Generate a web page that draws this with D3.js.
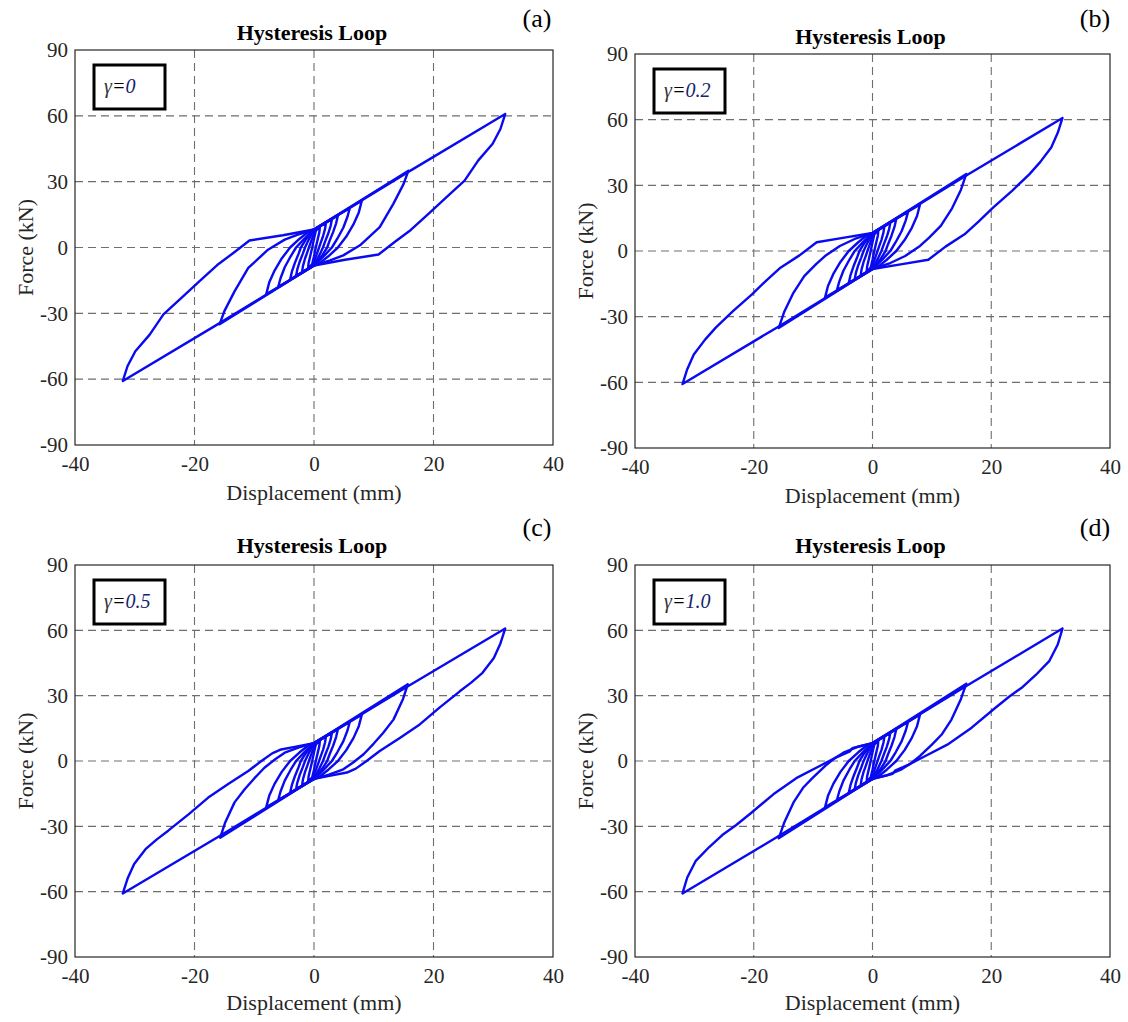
<!DOCTYPE html>
<html>
<head>
<meta charset="utf-8">
<script src="https://cdn.jsdelivr.net/npm/d3@7"></script>
<style>
  body { margin: 0; background: #fff; }
  svg { display: block; font-family: "Liberation Serif", "Times New Roman", serif; }
</style>
</head>
<body>
<div id="chart"></div>
<script>
// axis ticks
var xTicks = [-40, -20, 0, 20, 40]
var yTicks = [-90, -60, -30, 0, 30, 60, 90]
var xGrid = [-20, 0, 20]
var yGrid = [-60, -30, 0, 30, 60]

var panelTags = ["(a)", "(b)", "(c)", "(d)"]
var gammaValues = ["0", "0.2", "0.5", "1.0"]

// small cycles, nearly identical in all four panels (displacement mm, force kN)
var loop1 = [[1,9.7],[0.9,7],[0.6,3.5],[0.3,0],[0,-4],[-0.3,-7.5],[-1,-9.7],[-0.9,-7],[-0.6,-3.5],[-0.3,0],[0,4],[0.3,7.5],[1,9.7]]
var loop2 = [[2,11.3],[1.85,8.5],[1.5,5],[1.1,2],[0.85,0],[0.4,-3.5],[0,-6.5],[-0.5,-8.8],[-2,-11.3],[-1.85,-8.5],[-1.5,-5],[-1.1,-2],[-0.85,0],[-0.4,3.5],[0,6.5],[0.5,8.8],[2,11.3]]
var loop3 = [[3,13],[2.8,10],[2.4,6.5],[1.9,3],[1.5,0],[0.9,-3.5],[0.3,-6.5],[-0.3,-8.5],[-3,-13],[-2.8,-10],[-2.4,-6.5],[-1.9,-3],[-1.5,0],[-0.9,3.5],[-0.3,6.5],[0.3,8.5],[3,13]]
var loop4 = [[4,14.6],[3.7,11],[3.2,7],[2.6,3],[2.2,0],[1.4,-3.5],[0.5,-6.5],[0,-8],[-4,-14.6],[-3.7,-11],[-3.2,-7],[-2.6,-3],[-2.2,0],[-1.4,3.5],[-0.5,6.5],[0,8],[4,14.6]]
var loop6 = [[6,18],[5.6,14],[4.9,9],[3.9,4],[3,0],[1.8,-3.5],[0.7,-6.5],[0,-8.2],[-6,-18],[-5.6,-14],[-4.9,-9],[-3.9,-4],[-3,0],[-1.8,3.5],[-0.7,6.5],[0,8.2],[6,18]]
var loop8 = [[8,21.3],[7.5,16],[6.6,10.5],[5.4,5],[4,0],[2.4,-4],[1,-7],[0,-8.3],[-8,-21.3],[-7.5,-16],[-6.6,-10.5],[-5.4,-5],[-4,0],[-2.4,4],[-1,7],[0,8.3],[8,21.3]]

// 16 mm cycle, per panel
var mid_a = [[15.8,35],[15,29],[13.3,20],[11,9.3],[7.7,1],[4.9,-3.6],[2.7,-5.9],[0,-8.2],[-15.8,-35],[-15,-29],[-13.3,-20],[-11,-9.3],[-7.7,-1],[-4.9,3.6],[-2.7,5.9],[0,8.2],[15.8,35]]
var mid_b = [[15.8,35.2],[14.9,28],[13.4,19.5],[11.5,11.5],[9.5,6],[8,2.3],[5.5,-2.3],[3,-5.5],[0,-8.2],[-15.8,-35.2],[-14.9,-28],[-13.4,-19.5],[-11.5,-11.5],[-9.5,-6],[-8,-2.3],[-5.5,2.3],[-3,5.5],[0,8.2],[15.8,35.2]]
var mid_c = [[15.7,35.2],[14.9,28.5],[13.3,19],[11.6,13],[10,8],[8.3,3.1],[6.5,-0.8],[4.9,-3.8],[2.5,-6.3],[0,-8.2],[-15.7,-35.2],[-14.9,-28.5],[-13.3,-19],[-11.6,-13],[-10,-8],[-8.3,-3.1],[-6.5,0.8],[-4.9,3.8],[-2.5,6.3],[0,8.2],[15.7,35.2]]
var mid_d = [[15.8,35.5],[14.9,28.5],[13.3,19],[11.7,12.3],[10,7.5],[8,2.3],[6.5,-1],[4.9,-3.8],[2.5,-6.5],[0,-8.2],[-15.8,-35.5],[-14.9,-28.5],[-13.3,-19],[-11.7,-12.3],[-10,-7.5],[-8,-2.3],[-6.5,1],[-4.9,3.8],[-2.5,6.5],[0,8.2],[15.8,35.5]]

// 32 mm cycle, per panel
var outer_a = [[32,60.8],[31.2,54],[29.9,47.3],[27.5,39.7],[25.2,30.5],[22,22.5],[19.2,15.4],[16.2,8],[13.5,2.5],[10.8,-3.2],[5.2,-5.6],[0,-8.2],[-16,-34.8],[-32,-60.8],
  [-31.2,-54],[-29.9,-47.3],[-27.5,-39.7],[-25.2,-30.5],[-22,-22.5],[-19.2,-15.4],[-16.2,-8],[-13.5,-2.5],[-10.8,3.2],[-5.2,5.6],[0,8.2],[16,34.8],[32,60.8]]
var outer_b = [[32,60.8],[31.2,54],[30.1,47.3],[28.2,40.5],[26.4,35],[23.5,27.5],[20.3,19.8],[17.9,13.5],[15.5,7.6],[12.3,2],[9.4,-4],[5,-6],[0,-8.2],[-16,-34.8],[-32,-60.8],
  [-31.2,-54],[-30.1,-47.3],[-28.2,-40.5],[-26.4,-35],[-23.5,-27.5],[-20.3,-19.8],[-17.9,-13.5],[-15.5,-7.6],[-12.3,-2],[-9.4,4],[-5,6],[0,8.2],[16,34.8],[32,60.8]]
var outer_c = [[32,60.8],[31.2,54],[30.1,47.3],[28.2,40.5],[26.3,36],[24.4,32],[21,24.5],[17.7,16.8],[14.3,10.5],[11,4.6],[8.8,0],[7,-3.5],[5.5,-5.3],[3,-6.6],[0,-8.2],[-16,-34.8],[-32,-60.8],
  [-31.2,-54],[-30.1,-47.3],[-28.2,-40.5],[-26.3,-36],[-24.4,-32],[-21,-24.5],[-17.7,-16.8],[-14.3,-10.5],[-11,-4.6],[-8.8,0],[-7,3.5],[-5.5,5.3],[-3,6.6],[0,8.2],[16,34.8],[32,60.8]]
var outer_d = [[32,60.8],[31.2,53.5],[29.8,46],[27.5,39.5],[25.3,34],[23,29.5],[20.5,24],[16.7,15.3],[12.6,7.5],[8.9,2.3],[6,-1.8],[3.8,-4.4],[3.4,-5.9],[1.8,-7],[0,-8.2],[-16,-34.8],[-32,-60.8],
  [-31.2,-53.5],[-29.8,-46],[-27.5,-39.5],[-25.3,-34],[-23,-29.5],[-20.5,-24],[-16.7,-15.3],[-12.6,-7.5],[-8.9,-2.3],[-6,1.8],[-3.8,4.4],[-3.4,5.9],[-1.8,7],[0,8.2],[16,34.8],[32,60.8]]

var smallLoops = [loop1, loop2, loop3, loop4, loop6, loop8]
var midLoops = [mid_a, mid_b, mid_c, mid_d]
var outerLoops = [outer_a, outer_b, outer_c, outer_d]

var width = 1128, height = 1022
var svg = d3.select("#chart").append("svg")
    .attr("width", width)
    .attr("height", height)

// plot frames in page pixels
var frames = [
    {x0: 75, x1: 553, y0: 50, y1: 445, titleY: 40, tagX: 537, tagY: 27, xlabY: 500},
    {x0: 635, x1: 1110, y0: 54, y1: 448, titleY: 44, tagX: 1095, tagY: 27, xlabY: 503},
    {x0: 75, x1: 553, y0: 565, y1: 957, titleY: 553, tagX: 537, tagY: 536, xlabY: 1010},
    {x0: 635, x1: 1110, y0: 565, y1: 957, titleY: 553, tagX: 1095, tagY: 536, xlabY: 1010}
]

var serif = "'Liberation Serif', 'Times New Roman', serif"

frames.forEach(function(f, i){
    var x = d3.scaleLinear().domain([-40, 40]).range([f.x0, f.x1])
    var y = d3.scaleLinear().domain([-90, 90]).range([f.y1, f.y0])
    var g = svg.append("g")

    // grid
    g.selectAll(".vgrid").data(xGrid).enter().append("line")
        .attr("x1", d => x(d)).attr("x2", d => x(d))
        .attr("y1", f.y0).attr("y2", f.y1)
        .attr("stroke", "#6e6e6e").attr("stroke-width", 1.1)
        .attr("stroke-dasharray", "8,5")
    g.selectAll(".hgrid").data(yGrid).enter().append("line")
        .attr("x1", f.x0).attr("x2", f.x1)
        .attr("y1", d => y(d)).attr("y2", d => y(d))
        .attr("stroke", "#6e6e6e").attr("stroke-width", 1.1)
        .attr("stroke-dasharray", "8,5")

    // axes (labels only, the frame is drawn below)
    var fmt = d => String(d)
    var xAxis = g.append("g")
        .attr("transform", "translate(0," + f.y1 + ")")
        .call(d3.axisBottom(x).tickValues(xTicks).tickFormat(fmt).tickSize(0).tickPadding(11))
    var yAxis = g.append("g")
        .attr("transform", "translate(" + f.x0 + ",0)")
        .call(d3.axisLeft(y).tickValues(yTicks).tickFormat(fmt).tickSize(0).tickPadding(7))
    ;[xAxis, yAxis].forEach(function(a){
        a.attr("font-family", serif).attr("font-size", 21)
        a.select(".domain").remove()
        a.selectAll("line").remove()
        a.selectAll("text").attr("fill", "#262626")
    })

    // frame
    g.append("rect")
        .attr("x", f.x0).attr("y", f.y0)
        .attr("width", f.x1 - f.x0).attr("height", f.y1 - f.y0)
        .attr("fill", "none").attr("stroke", "#262626").attr("stroke-width", 1.2)

    // loops
    var line = d3.line().x(d => x(d[0])).y(d => y(d[1]))
    var loops = [outerLoops[i], midLoops[i]].concat(smallLoops)
    g.selectAll(".loop").data(loops).enter().append("path")
        .attr("d", line)
        .attr("fill", "none")
        .attr("stroke", "#0a0af0")
        .attr("stroke-width", 2.4)
        .attr("stroke-linejoin", "round")
        .attr("stroke-linecap", "round")

    // titles and labels
    g.append("text")
        .attr("x", (f.x0 + f.x1) / 2 - 2).attr("y", f.titleY)
        .attr("text-anchor", "middle")
        .attr("font-weight", "bold").attr("font-size", 22)
        .text("Hysteresis Loop")
    g.append("text")
        .attr("x", f.tagX).attr("y", f.tagY)
        .attr("text-anchor", "middle")
        .attr("font-size", 26)
        .text(panelTags[i])
    g.append("text")
        .attr("x", (f.x0 + f.x1) / 2).attr("y", f.xlabY)
        .attr("text-anchor", "middle")
        .attr("font-size", 22).attr("fill", "#262626")
        .text("Displacement (mm)")
    g.append("text")
        .attr("transform", "translate(" + (f.x0 - 42) + "," + ((f.y0 + f.y1) / 2) + ") rotate(-90)")
        .attr("text-anchor", "middle")
        .attr("font-size", 22).attr("fill", "#262626")
        .text("Force (kN)")

    // gamma legend box
    var bx = f.x0 + 19, by = f.y0 + 15
    g.append("rect")
        .attr("x", bx).attr("y", by)
        .attr("width", 71).attr("height", 44)
        .attr("fill", "#fff").attr("stroke", "#000").attr("stroke-width", 3)
    var t = g.append("text")
        .attr("x", bx + 10).attr("y", by + 28)
        .attr("font-size", 20).attr("font-style", "italic")
    t.append("tspan").attr("fill", "#333").text("γ")
    t.append("tspan").attr("fill", "#000").text("=")
    t.append("tspan").attr("fill", "#14236b").text(gammaValues[i])
})
</script>
</body>
</html>
